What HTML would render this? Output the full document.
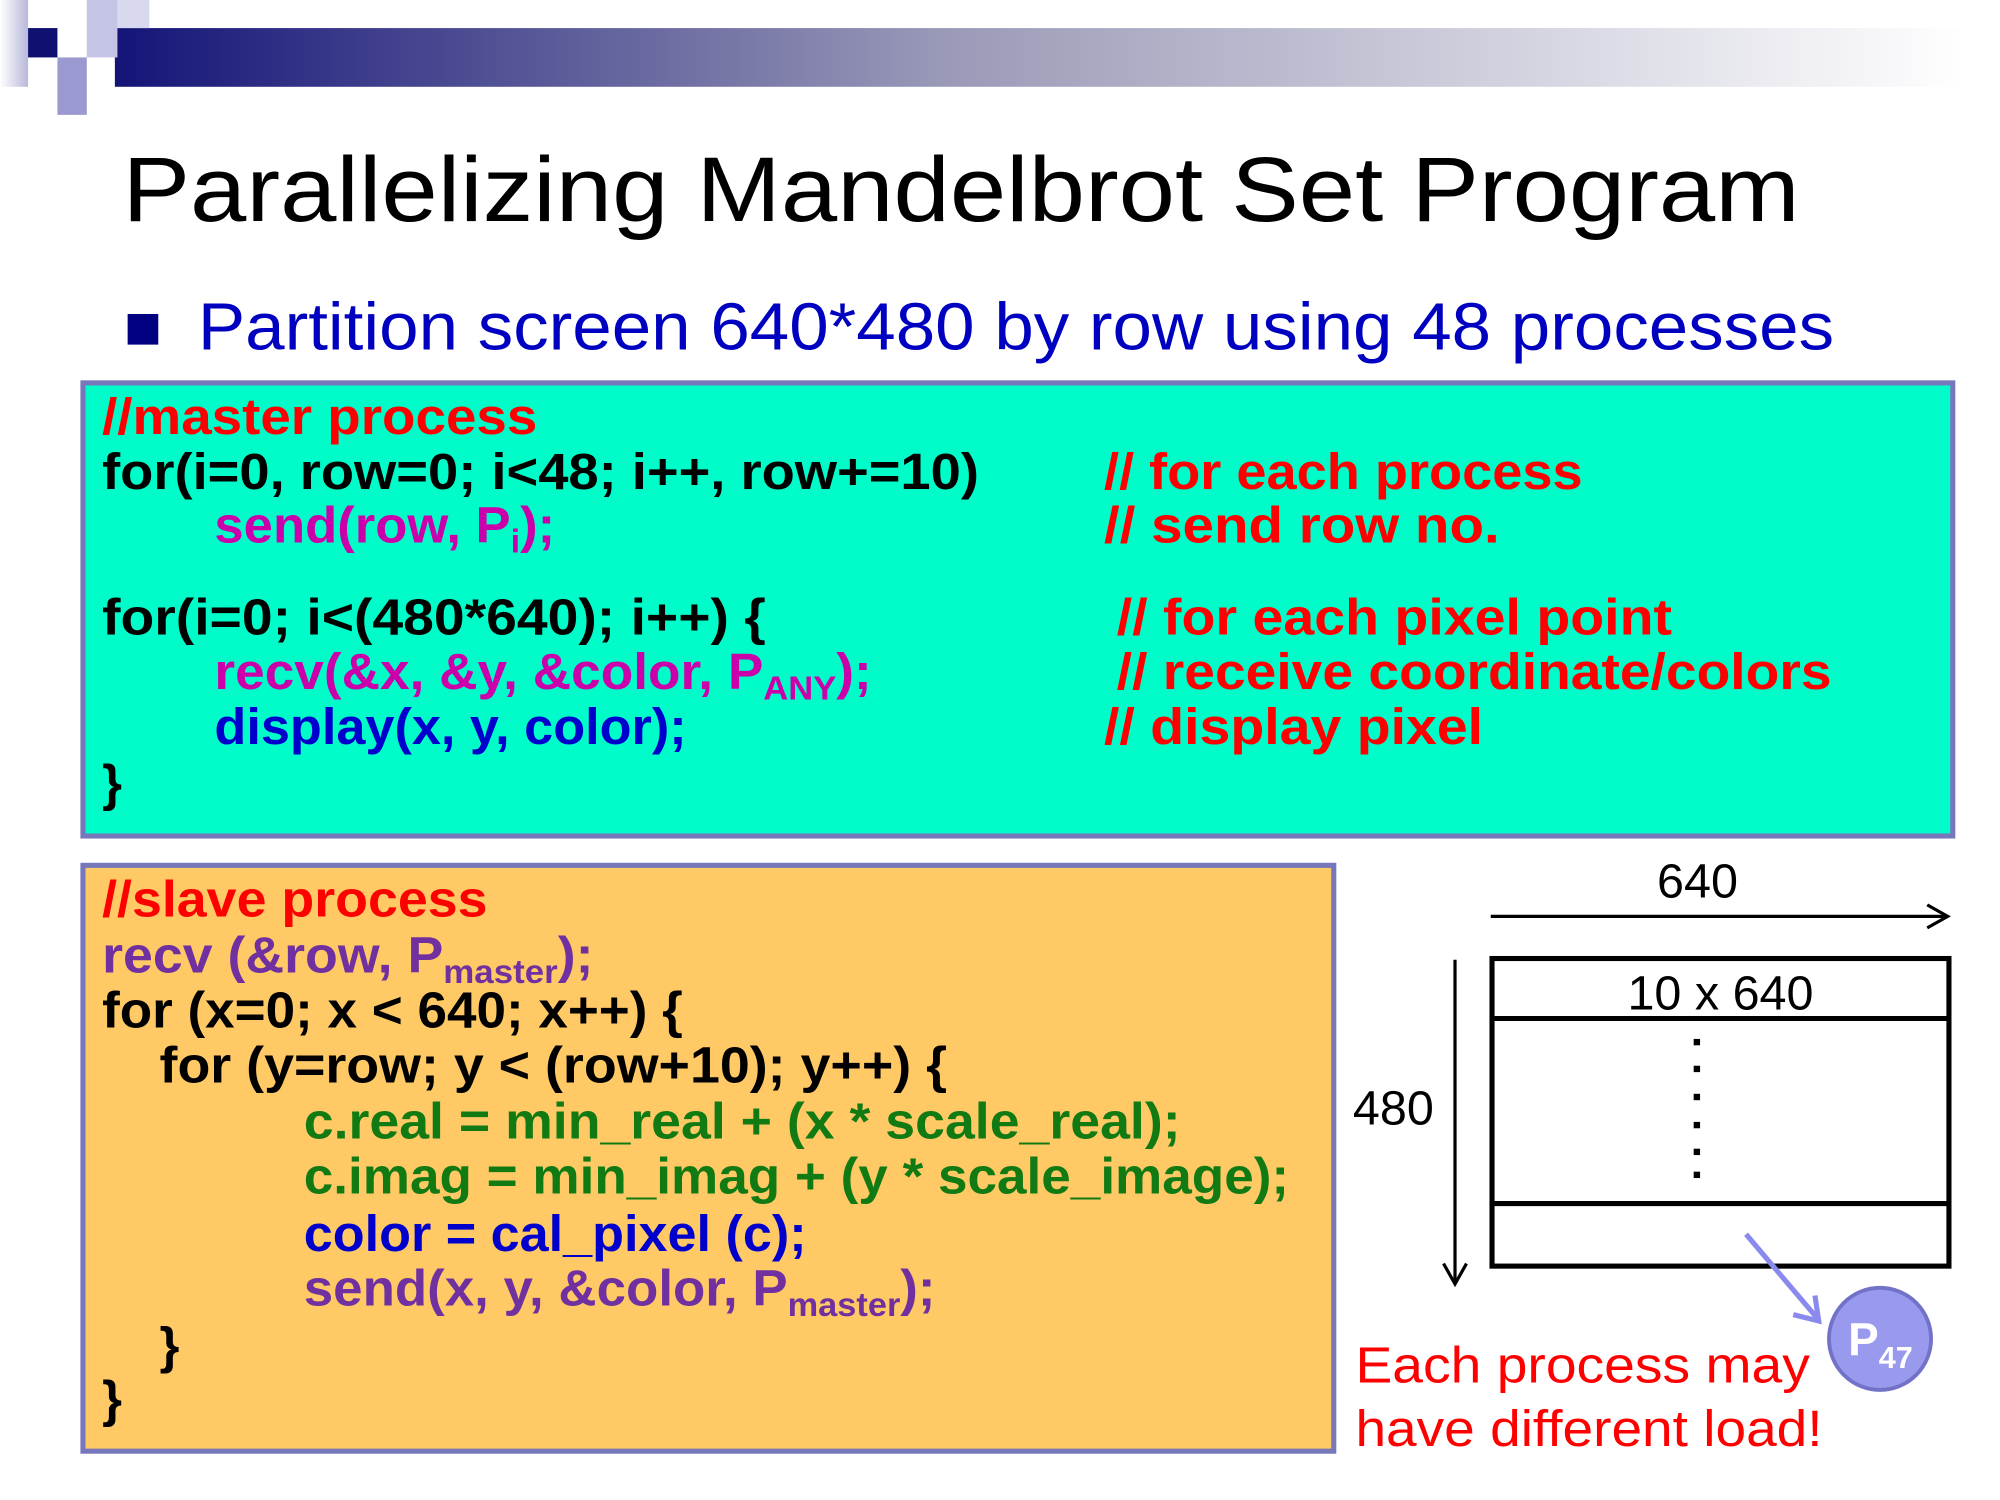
<!DOCTYPE html>
<html><head><meta charset="utf-8"><style>
html,body{margin:0;padding:0;background:#fff;width:2000px;height:1500px;overflow:hidden}
svg{display:block}
text{font-family:"Liberation Sans",sans-serif}
.c{font-size:40px;font-weight:bold}
</style></head><body>
<svg width="2000" height="1500" viewBox="0 0 1567 1175" preserveAspectRatio="xMinYMin meet" xmlns="http://www.w3.org/2000/svg">
<defs>
<linearGradient id="g" x1="0" x2="1" y1="0" y2="0">
<stop offset="0" stop-color="#141478"/><stop offset="0.45" stop-color="#9a9ab8"/><stop offset="1" stop-color="#ffffff"/>
</linearGradient>
<linearGradient id="lg" x1="0" x2="1"><stop offset="0" stop-color="#fff"/><stop offset="1" stop-color="#b8b8dc"/></linearGradient>
</defs>
<rect x="90" y="22" width="1450" height="46" fill="url(#g)"/>
<rect x="0" y="0" width="22" height="68" fill="url(#lg)"/>
<rect x="68" y="0" width="24" height="45" fill="#c4c4e4"/>
<rect x="92" y="0" width="25" height="22" fill="#d8d8ee"/>
<rect x="22" y="22" width="23" height="23" fill="#101070"/>
<rect x="45" y="45" width="23" height="45" fill="#9a9ad0"/>
<text x="96" y="173" font-size="72" textLength="1314" lengthAdjust="spacingAndGlyphs">Parallelizing Mandelbrot Set Program</text>
<rect x="100" y="246" width="24" height="24" fill="#000080"/>
<text x="155" y="274" font-size="52" fill="#0000c0" textLength="1282" lengthAdjust="spacingAndGlyphs">Partition screen 640*480 by row using 48 processes</text>

<rect x="65" y="300" width="1465" height="355" fill="#00fcc9" stroke="#7777bb" stroke-width="4"/>
<g class="c">
<text x="80" y="340" fill="#ff0000" textLength="341" lengthAdjust="spacingAndGlyphs">//master process</text>
<text x="80" y="383" fill="#000" textLength="687" lengthAdjust="spacingAndGlyphs">for(i=0, row=0; i&lt;48; i++, row+=10)</text>
<text x="168" y="425" fill="#cc00aa" textLength="267" lengthAdjust="spacingAndGlyphs">send(row, P<tspan font-size="26" dy="8">i</tspan><tspan dy="-8">);</tspan></text>
<text x="865" y="383" fill="#ff0000" textLength="375" lengthAdjust="spacingAndGlyphs">// for each process</text>
<text x="865" y="425" fill="#ff0000" textLength="310" lengthAdjust="spacingAndGlyphs">// send row no.</text>
<text x="80" y="497" fill="#000" textLength="520" lengthAdjust="spacingAndGlyphs">for(i=0; i&lt;(480*640); i++) {</text>
<text x="168" y="540" fill="#cc00aa" textLength="515" lengthAdjust="spacingAndGlyphs">recv(&amp;x, &amp;y, &amp;color, P<tspan font-size="26" dy="8">ANY</tspan><tspan dy="-8">);</tspan></text>
<text x="168" y="583" fill="#0000cc" textLength="370" lengthAdjust="spacingAndGlyphs">display(x, y, color);</text>
<text x="80" y="627" fill="#000">}</text>
<text x="875" y="497" fill="#ff0000" textLength="435" lengthAdjust="spacingAndGlyphs">// for each pixel point</text>
<text x="875" y="540" fill="#ff0000" textLength="560" lengthAdjust="spacingAndGlyphs">// receive coordinate/colors</text>
<text x="865" y="583" fill="#ff0000" textLength="297" lengthAdjust="spacingAndGlyphs">// display pixel</text>
</g>

<rect x="65" y="678" width="980" height="459" fill="#ffc966" stroke="#7777bb" stroke-width="4"/>
<g class="c">
<text x="80" y="718" fill="#ff0000" textLength="302" lengthAdjust="spacingAndGlyphs">//slave process</text>
<text x="80" y="762" fill="#7030a0" textLength="385" lengthAdjust="spacingAndGlyphs">recv (&amp;row, P<tspan font-size="26" dy="8">master</tspan><tspan dy="-8">);</tspan></text>
<text x="80" y="805" fill="#000" textLength="455" lengthAdjust="spacingAndGlyphs">for (x=0; x &lt; 640; x++) {</text>
<text x="125" y="848" fill="#000" textLength="617" lengthAdjust="spacingAndGlyphs">for (y=row; y &lt; (row+10); y++) {</text>
<text x="238" y="892" fill="#127a12" textLength="687" lengthAdjust="spacingAndGlyphs">c.real = min_real + (x * scale_real);</text>
<text x="238" y="935" fill="#127a12" textLength="772" lengthAdjust="spacingAndGlyphs">c.imag = min_imag + (y * scale_image);</text>
<text x="238" y="980" fill="#0000cc" textLength="394" lengthAdjust="spacingAndGlyphs">color = cal_pixel (c);</text>
<text x="238" y="1023" fill="#7030a0" textLength="495" lengthAdjust="spacingAndGlyphs">send(x, y, &amp;color, P<tspan font-size="26" dy="8">master</tspan><tspan dy="-8">);</tspan></text>
<text x="125" y="1068" fill="#000">}</text>
<text x="80" y="1110" fill="#000">}</text>
</g>

<text x="1330" y="703" font-size="38" text-anchor="middle">640</text>
<line x1="1168" y1="718" x2="1525" y2="718" stroke="#000" stroke-width="2.5"/>
<polyline points="1510,709 1526,718 1510,727" fill="none" stroke="#000" stroke-width="2.5"/>
<rect x="1169" y="751" width="358" height="241" fill="#fff" stroke="#000" stroke-width="4"/>
<line x1="1169" y1="798" x2="1527" y2="798" stroke="#000" stroke-width="4"/>
<line x1="1169" y1="943" x2="1527" y2="943" stroke="#000" stroke-width="4"/>
<text x="1348" y="791" font-size="38" text-anchor="middle">10 x 640</text>
<g fill="#000">
<rect x="1327" y="814" width="5" height="5"/><rect x="1327" y="835" width="5" height="5"/><rect x="1327" y="857" width="5" height="5"/>
<rect x="1327" y="879" width="5" height="5"/><rect x="1327" y="900" width="5" height="5"/><rect x="1327" y="918" width="5" height="5"/>
</g>
<text x="1060" y="881" font-size="38">480</text>
<line x1="1140" y1="752" x2="1140" y2="1005" stroke="#000" stroke-width="2.5"/>
<polyline points="1131,990 1140,1006 1149,990" fill="none" stroke="#000" stroke-width="2.5"/>
<line x1="1368" y1="967" x2="1424" y2="1033" stroke="#8a8aee" stroke-width="4"/>
<polyline points="1405,1030 1425,1035 1422,1015" fill="none" stroke="#8a8aee" stroke-width="4"/>
<circle cx="1473" cy="1049" r="40" fill="#9999ee" stroke="#7272c8" stroke-width="3"/>
<text x="1448" y="1062" font-size="36" font-weight="bold" fill="#fff">P<tspan font-size="24" dy="10">47</tspan></text>
<text x="1062" y="1083" font-size="40" fill="#ff0000" textLength="356" lengthAdjust="spacingAndGlyphs">Each process may</text>
<text x="1062" y="1133" font-size="40" fill="#ff0000" textLength="366" lengthAdjust="spacingAndGlyphs">have different load!</text>
</svg>
</body></html>
